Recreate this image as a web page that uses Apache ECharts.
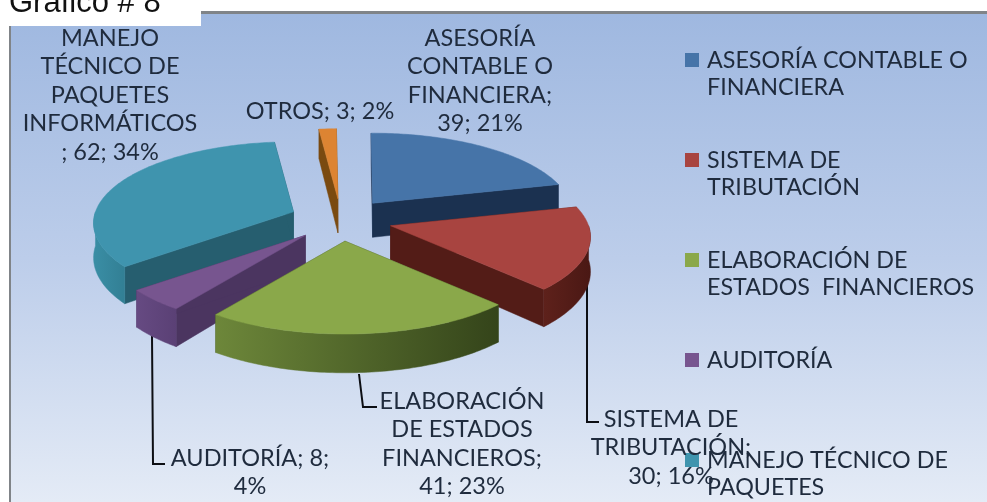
<!DOCTYPE html>
<html><head><meta charset="utf-8">
<style>html,body{margin:0;padding:0;background:#fff}#c{width:987px;height:502px}</style>
<script src="https://cdn.jsdelivr.net/npm/echarts@6/dist/echarts.min.js"></script>
</head><body><div id="c"></div>
<script>
// ---- data ----
const categories = ['ASESORÍA CONTABLE O FINANCIERA','SISTEMA DE TRIBUTACIÓN','ELABORACIÓN DE ESTADOS  FINANCIEROS','AUDITORÍA','MANEJO TÉCNICO DE PAQUETES INFORMÁTICOS','OTROS'];
const values = [39,30,41,8,62,3];
const legendLines = [
  ['ASESORÍA CONTABLE O','FINANCIERA'],
  ['SISTEMA DE','TRIBUTACIÓN'],
  ['ELABORACIÓN DE','ESTADOS  FINANCIEROS'],
  ['AUDITORÍA'],
  ['MANEJO TÉCNICO DE','PAQUETES']
];
const dataLabels = [
  'ASESORÍA\nCONTABLE O\nFINANCIERA;\n39; 21%',
  'SISTEMA DE\nTRIBUTACIÓN;\n30; 16%',
  'ELABORACIÓN\nDE ESTADOS\nFINANCIEROS;\n41; 23%',
  'AUDITORÍA; 8;\n4%',
  'MANEJO\nTÉCNICO DE\nPAQUETES\nINFORMÁTICOS\n; 62; 34%',
  'OTROS; 3; 2%'
];
const title = 'Gráfico # 8';

// ---- styles and layout ----
const topColors  = ['#4674a8','#a84440','#8aa84a','#77558f','#3f94ae','#dd8432'];
const wallColors = ['#1b3150','#531c17','#3d4f20','#4b3560','#265e6f','#7a4a10'];
const rimColors  = [['#2a4a75','#1b3150'],['#5e211b','#4a1814'],['#6d873a','#34441a'],['#664a82','#5a4075'],['#3a8ea5','#327f94'],['#8a5515','#8a5515']];
const paintOrder = [5,0,4,1,3,2];
const labelBoxes = [[480,24],[671,405],[462,387],[250,444],[110,24],[320,97]];
const leaderPaths = [[[587,285],[587,422],[599,422]],[[359,374],[363,407],[377,407]],[[152,336],[153,464],[165,464]]];
const pie = {cx:341, cy:220, rx:198, ry:81.5, persp:0.14, depth:34, explode:0.26, startDeg:-0.5};
const fontFamily = 'Lato, "Open Sans", sans-serif';
const textColor = '#1f2b3d';
const rad = d => d*Math.PI/180;

const total = values.reduce((a,b)=>a+b,0);
function angles(i){
  let before = 0;
  for(let k=0;k<i;k++) before += values[k];
  const a0 = pie.startDeg + before/total*360;
  return [a0, a0 + values[i]/total*360];
}
function makeRender(i){
  return function(params, api){
    const val = api.value(0);
    const a0 = angles(i)[0], a1 = a0 + val/total*360, mid = (a0+a1)/2;
    const ax = pie.cx + pie.rx*pie.explode*Math.sin(rad(mid));
    const ay = pie.cy - pie.ry*pie.explode*Math.cos(rad(mid));
    const rim = t => {
      const c = Math.cos(rad(t)), s = 1 - pie.persp*c;
      return [ax + pie.rx*Math.sin(rad(t))*s, ay - pie.ry*c*s];
    };
    const drop = t => pie.depth*(1 - pie.persp*Math.cos(rad(t)));
    const down = (p,d) => [p[0], p[1]+d];
    const apex = [ax,ay], apexLow = down(apex,pie.depth);
    const kids = [];
    const poly = (pts,fill) => kids.push({type:'polygon',shape:{points:pts},style:{fill:fill,stroke:fill,lineWidth:0.5}});
    // radial walls
    poly([apex,rim(a0),down(rim(a0),drop(a0)),apexLow], wallColors[i]);
    poly([apex,rim(a1),down(rim(a1),drop(a1)),apexLow], wallColors[i]);
    // outer rim, only its front-facing part
    const r0 = Math.max(a0,90), r1 = Math.min(a1,270);
    if(r1>r0){
      const upper=[], lower=[];
      for(let t=r0;t<r1;t+=1){ upper.push(rim(t)); lower.unshift(down(rim(t),drop(t))); }
      upper.push(rim(r1)); lower.unshift(down(rim(r1),drop(r1)));
      poly(upper.concat(lower),{type:'linear',x:0,y:0,x2:1,y2:0,colorStops:[{offset:0,color:rimColors[i][0]},{offset:1,color:rimColors[i][1]}]});
    }
    // top face
    const top=[apex];
    for(let t=a0;t<a1;t+=1) top.push(rim(t));
    top.push(rim(a1));
    poly(top, topColors[i]);
    return {type:'group',children:kids};
  };
}

const series = paintOrder.map(function(i,order){
  return {
    type:'custom', name:categories[i], coordinateSystem:'none', z:3+order*0.01,
    silent:true, animation:false, clip:false,
    itemStyle:{color:topColors[i]},
    data:[[values[i]]], renderItem:makeRender(i)
  };
});

const graphicEls = [
  {type:'rect',z:0,shape:{x:9,y:11,width:978,height:491},style:{fill:'#808488'}},
  {type:'rect',z:0,shape:{x:11,y:14,width:976,height:488},style:{fill:{type:'linear',x:0,y:0,x2:0,y2:1,colorStops:[{offset:0,color:'#9fb8e0'},{offset:0.5,color:'#bccdea'},{offset:1,color:'#e4ebf6'}]}}},
  {type:'rect',z:1,shape:{x:0,y:0,width:201,height:26},style:{fill:'#ffffff'}},
  {type:'text',z:2,style:{x:9,y:19,text:title,fill:'#111',font:'31px "Liberation Sans", Arial, sans-serif',verticalAlign:'bottom'}}
];
leaderPaths.forEach(function(p){
  graphicEls.push({type:'polyline',z:2,shape:{points:p},style:{stroke:'#0d0f14',lineWidth:2,fill:null}});
});
dataLabels.forEach(function(txt,i){
  graphicEls.push({type:'text',z:10,style:{x:labelBoxes[i][0],y:labelBoxes[i][1],text:txt,align:'center',verticalAlign:'top',fill:textColor,font:'23.5px '+fontFamily,lineHeight:28.5}});
});

const chart = echarts.init(document.getElementById('c'),null,{renderer:'canvas'});
chart.setOption({
  animation:false,
  graphic:{elements:graphicEls},
  legend:{
    orient:'vertical', left:685, top:19.5, itemWidth:14, itemHeight:14, itemGap:19,
    icon:'rect', selectedMode:false, padding:0, z:9,
    data:categories.slice(0,5),
    formatter:function(name){
      const l = legendLines[categories.indexOf(name)];
      return ' \n'+l[0]+'\n'+(l[1]||' ');
    },
    textStyle:{fontFamily:fontFamily,fontSize:23.3,lineHeight:27,color:textColor,padding:[0,0,0,3]}
  },
  series:series
});
</script></body></html>
